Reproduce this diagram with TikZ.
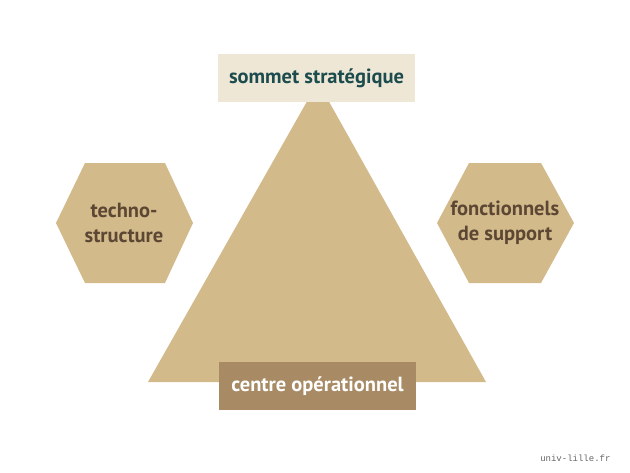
\documentclass[tikz,border=0pt]{standalone}
\usepackage{fontspec}
\setmainfont{PT Sans}
\newfontfamily\wmfont{Liberation Mono}
\usetikzlibrary{positioning}

\definecolor{triTan}{HTML}{D3BA8A}
\definecolor{topBeige}{HTML}{EEE7D5}
\definecolor{baseBrown}{HTML}{A88B64}
\definecolor{tealText}{HTML}{1D4C4E}
\definecolor{brownText}{HTML}{5B4733}

\begin{document}
\begin{tikzpicture}[
	%	style def
    x=1pt, y=-1pt,
    label box/.style={rectangle, inner sep=0pt, minimum width=197pt, minimum height=48pt, font=\fontsize{20.5}{24}\selectfont\bfseries},
    hex text/.style={align=center, text=brownText, font=\fontsize{20.5}{25}\selectfont\bfseries},
    every node/.style={color=black}
    ]
	\useasboundingbox (0,0) rectangle (630,472);

	% big triangle
	\fill[triTan] (318,82) coordinate (apex) -- (486,382) coordinate (br) -- (148,382) coordinate (bl) -- cycle;

	% hexagons
	\fill[triTan] (56,223) -- (85,163) -- (165,163) -- (193,223) -- (165,283) -- (85,283) -- cycle;
	\fill[triTan] (437,223) -- (469,163) -- (541,163) -- (574,223) -- (541,283) -- (469,283) -- cycle;
	\node[hex text] (techno) at (124,223) {techno-\\structure};
	\node[hex text] (support) at (505,223) {fonctionnels\\de support};

	% top and bottom boxes
	\node[label box, fill=topBeige, text=tealText] (sommet) at (316.5,78) {sommet stratégique};
	\node[label box, fill=baseBrown, text=white] (centre) at (317.5,386) {centre opérationnel};

	% watermark
	\node[anchor=east, text=black!60, font=\wmfont\fontsize{9}{10}\selectfont] (wm) at (614,458) {univ-lille.fr};
\end{tikzpicture}
\end{document}
